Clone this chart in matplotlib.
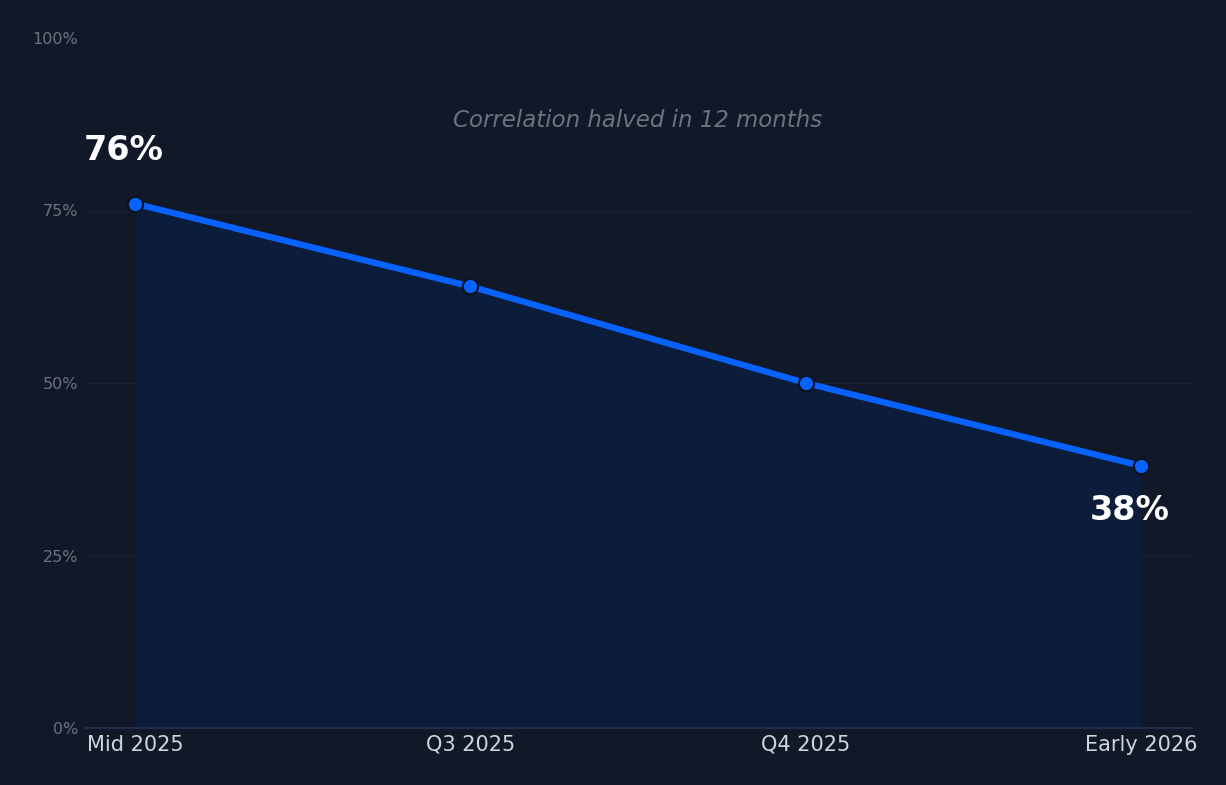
import numpy as np
import matplotlib
matplotlib.use("Agg")
import matplotlib.pyplot as plt

periods = ["Mid 2025", "Q3 2025", "Q4 2025", "Early 2026"]
correlation = [76, 64, 50, 38]
y_ticks = [0, 25, 50, 75, 100]

bg = "#111827"
blue = "#0862ff"

fig = plt.figure(figsize=(12.26, 7.85), dpi=100, facecolor=bg)
ax = fig.add_axes([85 / 1226, 57 / 785, 1107 / 1226, 690 / 785], facecolor=bg)

x = np.arange(len(periods))
ax.fill_between(x, correlation, 0, color="#0c1d3b", linewidth=0)
ax.plot(x, correlation, color=blue, linewidth=4.5, solid_capstyle="round",
        marker="o", markersize=11, markerfacecolor=blue,
        markeredgecolor="#0b1220", markeredgewidth=1.5, zorder=3)

ax.set_xlim(-50 / 335, 3 + 51 / 335)
ax.set_ylim(0, 100)

ax.set_xticks(x)
ax.set_xticklabels(periods, color="#d1d5db", fontsize=15)
ax.set_yticks(y_ticks)
ax.set_yticklabels([f"{v}%" for v in y_ticks], color="#6b7280", fontsize=11.5)
ax.tick_params(axis="both", length=0)
ax.tick_params(axis="x", pad=5)
ax.tick_params(axis="y", pad=5)

for v in y_ticks[1:4]:
    ax.axhline(v, color="#1a2333", linewidth=0.8, zorder=0)

for s in ["top", "right", "left"]:
    ax.spines[s].set_visible(False)
ax.spines["bottom"].set_color("#1f2d48")
ax.spines["bottom"].set_linewidth(1.5)

ax.text(1.5, 88, "Correlation halved in 12 months", ha="center", va="center",
        fontsize=16.5, style="italic", color="#6b7280")

ax.annotate(f"{correlation[0]}%", (x[0], correlation[0]), xytext=(-8, 38),
            textcoords="offset points", ha="center", va="center",
            fontsize=24, fontweight="bold", color="white")
ax.annotate(f"{correlation[-1]}%", (x[-1], correlation[-1]), xytext=(-8, -32),
            textcoords="offset points", ha="center", va="center",
            fontsize=24, fontweight="bold", color="white")

fig.savefig("out.png", dpi=100, facecolor=bg)
